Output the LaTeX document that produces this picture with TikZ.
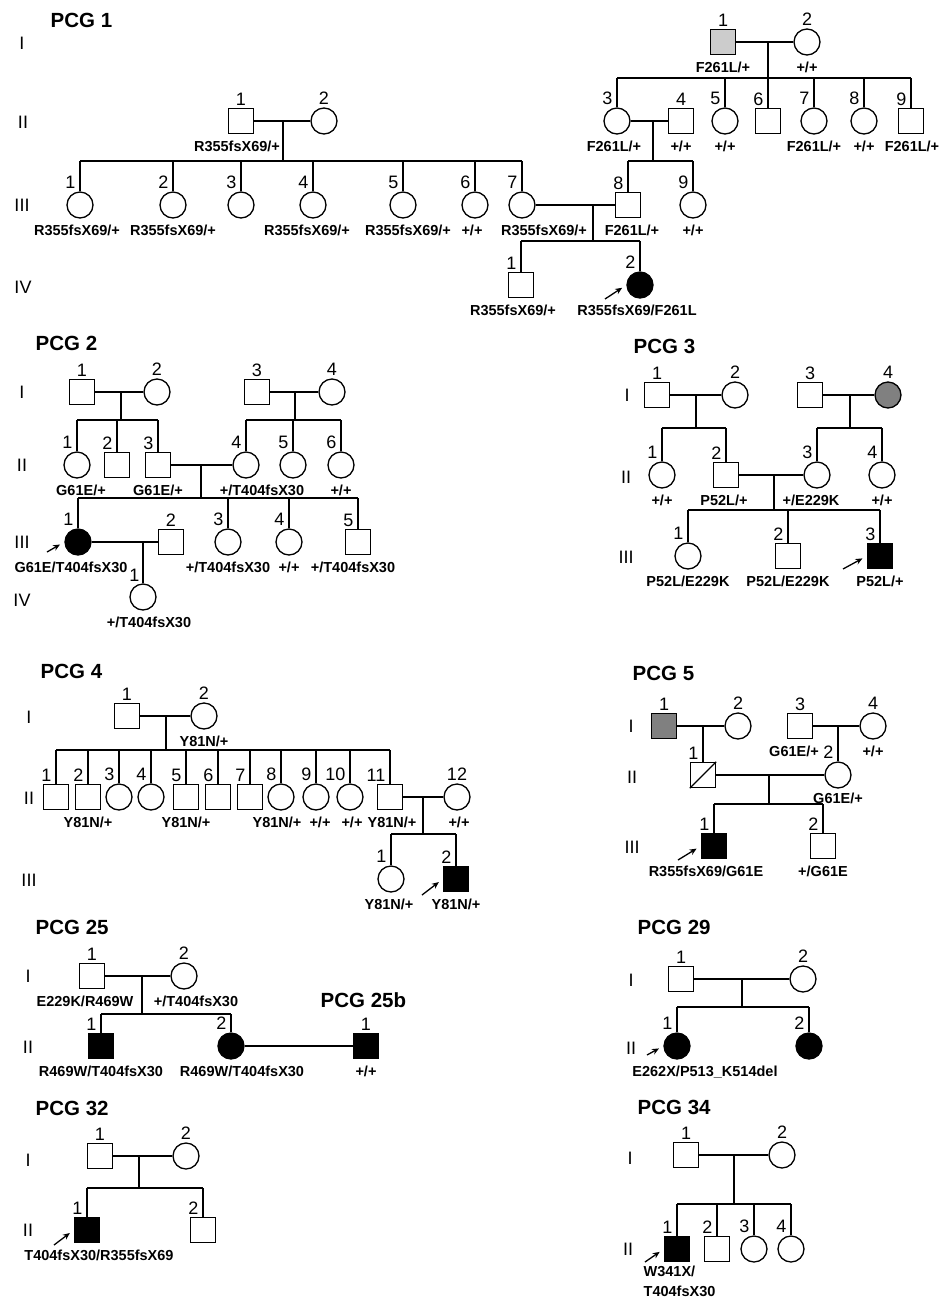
\documentclass[tikz,border=0pt]{standalone}
\usepackage{fontspec}
\setmainfont{Liberation Sans}
\usetikzlibrary{arrows.meta,positioning}

\begin{document}
\begin{tikzpicture}[x=1pt, y=-1pt, line width=1.3pt, >=Stealth,
  male/.style={draw, rectangle, minimum size=25pt, inner sep=0pt},
  female/.style={draw, circle, minimum size=26pt, inner sep=0pt},
  affected/.style={fill=black},
  lightc/.style={fill=black!20},
  darkc/.style={fill=black!50},
  num/.style={font=\fontsize{18}{18}\selectfont, inner sep=0pt},
  numc/.style={num, anchor=south, yshift=2pt},
  numl/.style={num, anchor=south east, xshift=-4pt, yshift=2pt},
  geno/.style={font=\fontsize{14.5}{20}\selectfont\bfseries, inner sep=1pt},
  gen/.style={font=\fontsize{18}{18}\selectfont, inner sep=0pt},
  pcgtitle/.style={font=\fontsize{20.5}{20}\selectfont\bfseries, anchor=west, inner sep=0pt},
  proband/.style={-{Stealth[length=7pt,width=6pt]}, line width=1.3pt, shorten >=5pt}]
\useasboundingbox (0,0) rectangle (941,1299);

\node[pcgtitle] (p1-t) at (50,20) {PCG 1};
\node[gen] (p1-gI) at (22,43) {I};
\node[gen] (p1-gII) at (23,122) {II};
\node[gen] (p1-gIII) at (22,205) {III};
\node[gen] (p1-gIV) at (23,287) {IV};
\node[male, lightc] (p1-I1) at (723,42) {};
\node[numc] (p1-I1n) at (p1-I1.north) {1};
\node[geno, below=5pt of p1-I1] (p1-I1g) {F261L/+};
\node[female] (p1-I2) at (807,42) {};
\node[numc] (p1-I2n) at (p1-I2.north) {2};
\node[geno, below=5pt of p1-I2] (p1-I2g) {+/+};
\coordinate (p1-f1) at (768,78);
\draw (p1-I1) -- (p1-I2);
\draw (p1-f1 |- p1-I1) -- (p1-f1);
\node[male] (p1-II1) at (241,121) {};
\node[numc] (p1-II1n) at (p1-II1.north) {1};
\node[geno, below=5pt of p1-II1, xshift=-4pt] (p1-II1g) {R355fsX69/+};
\node[female] (p1-II2) at (324,121) {};
\node[numc] (p1-II2n) at (p1-II2.north) {2};
\node[female] (p1-II3) at (617,121) {};
\node[numl] (p1-II3n) at (p1-II3.north) {3};
\node[geno, below=5pt of p1-II3, xshift=-3pt] (p1-II3g) {F261L/+};
\node[male] (p1-II4) at (681,121) {};
\node[numc] (p1-II4n) at (p1-II4.north) {4};
\node[geno, below=5pt of p1-II4] (p1-II4g) {+/+};
\node[female] (p1-II5) at (725,121) {};
\node[numl] (p1-II5n) at (p1-II5.north) {5};
\node[geno, below=5pt of p1-II5] (p1-II5g) {+/+};
\node[male] (p1-II6) at (768,121) {};
\node[numl] (p1-II6n) at (p1-II6.north) {6};
\node[female] (p1-II7) at (814,121) {};
\node[numl] (p1-II7n) at (p1-II7.north) {7};
\node[geno, below=5pt of p1-II7] (p1-II7g) {F261L/+};
\node[female] (p1-II8) at (864,121) {};
\node[numl] (p1-II8n) at (p1-II8.north) {8};
\node[geno, below=5pt of p1-II8] (p1-II8g) {+/+};
\node[male] (p1-II9) at (911,121) {};
\node[numl] (p1-II9n) at (p1-II9.north) {9};
\node[geno, below=5pt of p1-II9, xshift=1pt] (p1-II9g) {F261L/+};
\draw (p1-II3 |- p1-f1) -- (p1-II9 |- p1-f1);
\draw (p1-II3) -- (p1-II3 |- p1-f1);
\draw (p1-II5) -- (p1-II5 |- p1-f1);
\draw (p1-II6) -- (p1-II6 |- p1-f1);
\draw (p1-II7) -- (p1-II7 |- p1-f1);
\draw (p1-II8) -- (p1-II8 |- p1-f1);
\draw (p1-II9) -- (p1-II9 |- p1-f1);
\coordinate (p1-f2) at (283,161);
\coordinate (p1-f3) at (653,161);
\draw (p1-II1) -- (p1-II2);
\draw (p1-f2 |- p1-II1) -- (p1-f2);
\draw (p1-II3) -- (p1-II4);
\draw (p1-f3 |- p1-II3) -- (p1-f3);
\node[female] (p1-III1) at (80,205) {};
\node[numl] (p1-III1n) at (p1-III1.north) {1};
\node[geno, below=5pt of p1-III1, xshift=-3pt] (p1-III1g) {R355fsX69/+};
\node[female] (p1-III2) at (173,205) {};
\node[numl] (p1-III2n) at (p1-III2.north) {2};
\node[geno, below=5pt of p1-III2] (p1-III2g) {R355fsX69/+};
\node[female] (p1-III3) at (241,205) {};
\node[numl] (p1-III3n) at (p1-III3.north) {3};
\node[female] (p1-III4) at (313,205) {};
\node[numl] (p1-III4n) at (p1-III4.north) {4};
\node[geno, below=5pt of p1-III4, xshift=-6pt] (p1-III4g) {R355fsX69/+};
\node[female] (p1-III5) at (403,205) {};
\node[numl] (p1-III5n) at (p1-III5.north) {5};
\node[geno, below=5pt of p1-III5, xshift=5pt] (p1-III5g) {R355fsX69/+};
\node[female] (p1-III6) at (475,205) {};
\node[numl] (p1-III6n) at (p1-III6.north) {6};
\node[geno, below=5pt of p1-III6, xshift=-3pt] (p1-III6g) {+/+};
\node[female] (p1-III7) at (522,205) {};
\node[numl] (p1-III7n) at (p1-III7.north) {7};
\node[geno, below=5pt of p1-III7, xshift=22pt] (p1-III7g) {R355fsX69/+};
\node[male] (p1-III8) at (628,205) {};
\node[numl] (p1-III8n) at (p1-III8.north) {8};
\node[geno, below=5pt of p1-III8, xshift=4pt] (p1-III8g) {F261L/+};
\node[female] (p1-III9) at (693,205) {};
\node[numl] (p1-III9n) at (p1-III9.north) {9};
\node[geno, below=5pt of p1-III9] (p1-III9g) {+/+};
\draw (p1-III1 |- p1-f2) -- (p1-III7 |- p1-f2);
\draw (p1-III1) -- (p1-III1 |- p1-f2);
\draw (p1-III2) -- (p1-III2 |- p1-f2);
\draw (p1-III3) -- (p1-III3 |- p1-f2);
\draw (p1-III4) -- (p1-III4 |- p1-f2);
\draw (p1-III5) -- (p1-III5 |- p1-f2);
\draw (p1-III6) -- (p1-III6 |- p1-f2);
\draw (p1-III7) -- (p1-III7 |- p1-f2);
\draw (p1-III8 |- p1-f3) -- (p1-III9 |- p1-f3);
\draw (p1-III8) -- (p1-III8 |- p1-f3);
\draw (p1-III9) -- (p1-III9 |- p1-f3);
\coordinate (p1-f4) at (593,241);
\draw (p1-III7) -- (p1-III8);
\draw (p1-f4 |- p1-III7) -- (p1-f4);
\node[male] (p1-IV1) at (521,285) {};
\node[numl] (p1-IV1n) at (p1-IV1.north) {1};
\node[geno, below=5pt of p1-IV1, xshift=-8pt] (p1-IV1g) {R355fsX69/+};
\node[female, affected] (p1-IV2) at (640,285) {};
\node[numl] (p1-IV2n) at (p1-IV2.north) {2};
\node[geno, below=5pt of p1-IV2, xshift=-3pt] (p1-IV2g) {R355fsX69/F261L};
\draw (p1-IV1 |- p1-f4) -- (p1-IV2 |- p1-f4);
\draw (p1-IV1) -- (p1-IV1 |- p1-f4);
\draw (p1-IV2) -- (p1-IV2 |- p1-f4);
\coordinate (p1-arr) at (605,299);
\draw[proband] (p1-arr) -- (p1-IV2.west);

\node[pcgtitle] (p2-t) at (35,343) {PCG 2};
\node[gen] (p2-gI) at (22,392) {I};
\node[gen] (p2-gII) at (22,465) {II};
\node[gen] (p2-gIII) at (22,542) {III};
\node[gen] (p2-gIV) at (22,600) {IV};
\node[male] (p2-I1) at (82,392) {};
\node[numc] (p2-I1n) at (p2-I1.north) {1};
\node[female] (p2-I2) at (157,392) {};
\node[numc] (p2-I2n) at (p2-I2.north) {2};
\node[male] (p2-I3) at (257,392) {};
\node[numc] (p2-I3n) at (p2-I3.north) {3};
\node[female] (p2-I4) at (332,392) {};
\node[numc] (p2-I4n) at (p2-I4.north) {4};
\coordinate (p2-f1) at (121,420);
\coordinate (p2-f2) at (295,420);
\draw (p2-I1) -- (p2-I2);
\draw (p2-f1 |- p2-I1) -- (p2-f1);
\draw (p2-I3) -- (p2-I4);
\draw (p2-f2 |- p2-I3) -- (p2-f2);
\node[female] (p2-II1) at (77,465) {};
\node[numl] (p2-II1n) at (p2-II1.north) {1};
\node[geno, below=5pt of p2-II1, xshift=4pt] (p2-II1g) {G61E/+};
\node[male] (p2-II2) at (117,465) {};
\node[numl] (p2-II2n) at (p2-II2.north) {2};
\node[male] (p2-II3) at (158,465) {};
\node[numl] (p2-II3n) at (p2-II3.north) {3};
\node[geno, below=5pt of p2-II3] (p2-II3g) {G61E/+};
\node[female] (p2-II4) at (246,465) {};
\node[numl] (p2-II4n) at (p2-II4.north) {4};
\node[geno, below=5pt of p2-II4, xshift=16pt] (p2-II4g) {+/T404fsX30};
\node[female] (p2-II5) at (293,465) {};
\node[numl] (p2-II5n) at (p2-II5.north) {5};
\node[female] (p2-II6) at (341,465) {};
\node[numl] (p2-II6n) at (p2-II6.north) {6};
\node[geno, below=5pt of p2-II6] (p2-II6g) {+/+};
\draw (p2-II1 |- p2-f1) -- (p2-II3 |- p2-f1);
\draw (p2-II1) -- (p2-II1 |- p2-f1);
\draw (p2-II2) -- (p2-II2 |- p2-f1);
\draw (p2-II3) -- (p2-II3 |- p2-f1);
\draw (p2-II4 |- p2-f2) -- (p2-II6 |- p2-f2);
\draw (p2-II4) -- (p2-II4 |- p2-f2);
\draw (p2-II5) -- (p2-II5 |- p2-f2);
\draw (p2-II6) -- (p2-II6 |- p2-f2);
\coordinate (p2-f3) at (201,498);
\draw (p2-II3) -- (p2-II4);
\draw (p2-f3 |- p2-II3) -- (p2-f3);
\node[female, affected] (p2-III1) at (78,542) {};
\node[numl] (p2-III1n) at (p2-III1.north) {1};
\node[geno, below=5pt of p2-III1, xshift=-7pt] (p2-III1g) {G61E/T404fsX30};
\node[male] (p2-III2) at (171,542) {};
\node[numc] (p2-III2n) at (p2-III2.north) {2};
\node[female] (p2-III3) at (228,542) {};
\node[numl] (p2-III3n) at (p2-III3.north) {3};
\node[geno, below=5pt of p2-III3] (p2-III3g) {+/T404fsX30};
\node[female] (p2-III4) at (289,542) {};
\node[numl] (p2-III4n) at (p2-III4.north) {4};
\node[geno, below=5pt of p2-III4] (p2-III4g) {+/+};
\node[male] (p2-III5) at (358,542) {};
\node[numl] (p2-III5n) at (p2-III5.north) {5};
\node[geno, below=5pt of p2-III5, xshift=-5pt] (p2-III5g) {+/T404fsX30};
\draw (p2-III1 |- p2-f3) -- (p2-III5 |- p2-f3);
\draw (p2-III1) -- (p2-III1 |- p2-f3);
\draw (p2-III3) -- (p2-III3 |- p2-f3);
\draw (p2-III4) -- (p2-III4 |- p2-f3);
\draw (p2-III5) -- (p2-III5 |- p2-f3);
\draw (p2-III1) -- (p2-III2);
\node[female] (p2-IV1) at (143,597) {};
\node[numl, xshift=1pt, yshift=-1pt] (p2-IV1n) at (p2-IV1.north) {1};
\node[geno, below=5pt of p2-IV1, xshift=6pt] (p2-IV1g) {+/T404fsX30};
\draw (p2-IV1) -- (p2-IV1 |- p2-III1);
\coordinate (p2-arr) at (47,552);
\draw[proband] (p2-arr) -- (p2-III1.west);

\node[pcgtitle] (p3-t) at (633,346) {PCG 3};
\node[gen] (p3-gI) at (627,395) {I};
\node[gen] (p3-gII) at (626,477) {II};
\node[gen] (p3-gIII) at (626,557) {III};
\node[male] (p3-I1) at (657,395) {};
\node[numc] (p3-I1n) at (p3-I1.north) {1};
\node[female] (p3-I2) at (735,395) {};
\node[numc] (p3-I2n) at (p3-I2.north) {2};
\node[male] (p3-I3) at (810,395) {};
\node[numc] (p3-I3n) at (p3-I3.north) {3};
\node[female, darkc] (p3-I4) at (888,395) {};
\node[numc] (p3-I4n) at (p3-I4.north) {4};
\coordinate (p3-f1) at (696,428);
\coordinate (p3-f2) at (850,428);
\draw (p3-I1) -- (p3-I2);
\draw (p3-f1 |- p3-I1) -- (p3-f1);
\draw (p3-I3) -- (p3-I4);
\draw (p3-f2 |- p3-I3) -- (p3-f2);
\node[female] (p3-II1) at (662,475) {};
\node[numl] (p3-II1n) at (p3-II1.north) {1};
\node[geno, below=5pt of p3-II1] (p3-II1g) {+/+};
\node[male] (p3-II2) at (726,475) {};
\node[numl] (p3-II2n) at (p3-II2.north) {2};
\node[geno, below=5pt of p3-II2, xshift=-2pt] (p3-II2g) {P52L/+};
\node[female] (p3-II3) at (817,475) {};
\node[numl] (p3-II3n) at (p3-II3.north) {3};
\node[geno, below=5pt of p3-II3, xshift=-6pt] (p3-II3g) {+/E229K};
\node[female] (p3-II4) at (882,475) {};
\node[numl] (p3-II4n) at (p3-II4.north) {4};
\node[geno, below=5pt of p3-II4] (p3-II4g) {+/+};
\draw (p3-II1 |- p3-f1) -- (p3-II2 |- p3-f1);
\draw (p3-II1) -- (p3-II1 |- p3-f1);
\draw (p3-II2) -- (p3-II2 |- p3-f1);
\draw (p3-II3 |- p3-f2) -- (p3-II4 |- p3-f2);
\draw (p3-II3) -- (p3-II3 |- p3-f2);
\draw (p3-II4) -- (p3-II4 |- p3-f2);
\coordinate (p3-f3) at (774,510);
\draw (p3-II2) -- (p3-II3);
\draw (p3-f3 |- p3-II2) -- (p3-f3);
\node[female] (p3-III1) at (688,556) {};
\node[numl] (p3-III1n) at (p3-III1.north) {1};
\node[geno, below=5pt of p3-III1] (p3-III1g) {P52L/E229K};
\node[male] (p3-III2) at (788,556) {};
\node[numl] (p3-III2n) at (p3-III2.north) {2};
\node[geno, below=5pt of p3-III2] (p3-III2g) {P52L/E229K};
\node[male, affected] (p3-III3) at (880,556) {};
\node[numl] (p3-III3n) at (p3-III3.north) {3};
\node[geno, below=5pt of p3-III3] (p3-III3g) {P52L/+};
\draw (p3-III1 |- p3-f3) -- (p3-III3 |- p3-f3);
\draw (p3-III1) -- (p3-III1 |- p3-f3);
\draw (p3-III2) -- (p3-III2 |- p3-f3);
\draw (p3-III3) -- (p3-III3 |- p3-f3);
\coordinate (p3-arr) at (843,569);
\draw[proband] (p3-arr) -- (p3-III3.west);

\node[pcgtitle] (p4-t) at (40,671) {PCG 4};
\node[gen] (p4-gI) at (29,717) {I};
\node[gen] (p4-gII) at (29,798) {II};
\node[gen] (p4-gIII) at (29,880) {III};
\node[male] (p4-I1) at (127,716) {};
\node[numc] (p4-I1n) at (p4-I1.north) {1};
\node[female] (p4-I2) at (204,716) {};
\node[numc] (p4-I2n) at (p4-I2.north) {2};
\node[geno, below=5pt of p4-I2] (p4-I2g) {Y81N/+};
\coordinate (p4-f1) at (166,750);
\draw (p4-I1) -- (p4-I2);
\draw (p4-f1 |- p4-I1) -- (p4-f1);
\node[male] (p4-II1) at (56,797) {};
\node[numl] (p4-II1n) at (p4-II1.north) {1};
\node[male] (p4-II2) at (88,797) {};
\node[numl] (p4-II2n) at (p4-II2.north) {2};
\node[geno, below=5pt of p4-II2] (p4-II2g) {Y81N/+};
\node[female] (p4-II3) at (119,797) {};
\node[numl] (p4-II3n) at (p4-II3.north) {3};
\node[female] (p4-II4) at (151,797) {};
\node[numl] (p4-II4n) at (p4-II4.north) {4};
\node[male] (p4-II5) at (186,797) {};
\node[numl] (p4-II5n) at (p4-II5.north) {5};
\node[geno, below=5pt of p4-II5] (p4-II5g) {Y81N/+};
\node[male] (p4-II6) at (218,797) {};
\node[numl] (p4-II6n) at (p4-II6.north) {6};
\node[male] (p4-II7) at (250,797) {};
\node[numl] (p4-II7n) at (p4-II7.north) {7};
\node[female] (p4-II8) at (281,797) {};
\node[numl] (p4-II8n) at (p4-II8.north) {8};
\node[geno, below=5pt of p4-II8, xshift=-4pt] (p4-II8g) {Y81N/+};
\node[female] (p4-II9) at (316,797) {};
\node[numl] (p4-II9n) at (p4-II9.north) {9};
\node[geno, below=5pt of p4-II9, xshift=4pt] (p4-II9g) {+/+};
\node[female] (p4-II10) at (350,797) {};
\node[numl] (p4-II10n) at (p4-II10.north) {10};
\node[geno, below=5pt of p4-II10, xshift=2pt] (p4-II10g) {+/+};
\node[male] (p4-II11) at (390,797) {};
\node[numl] (p4-II11n) at (p4-II11.north) {11};
\node[geno, below=5pt of p4-II11, xshift=2pt] (p4-II11g) {Y81N/+};
\node[female] (p4-II12) at (457,797) {};
\node[numc] (p4-II12n) at (p4-II12.north) {12};
\node[geno, below=5pt of p4-II12, xshift=2pt] (p4-II12g) {+/+};
\draw (p4-II1 |- p4-f1) -- (p4-II11 |- p4-f1);
\draw (p4-II1) -- (p4-II1 |- p4-f1);
\draw (p4-II2) -- (p4-II2 |- p4-f1);
\draw (p4-II3) -- (p4-II3 |- p4-f1);
\draw (p4-II4) -- (p4-II4 |- p4-f1);
\draw (p4-II5) -- (p4-II5 |- p4-f1);
\draw (p4-II6) -- (p4-II6 |- p4-f1);
\draw (p4-II7) -- (p4-II7 |- p4-f1);
\draw (p4-II8) -- (p4-II8 |- p4-f1);
\draw (p4-II9) -- (p4-II9 |- p4-f1);
\draw (p4-II10) -- (p4-II10 |- p4-f1);
\draw (p4-II11) -- (p4-II11 |- p4-f1);
\coordinate (p4-f2) at (423,834);
\draw (p4-II11) -- (p4-II12);
\draw (p4-f2 |- p4-II11) -- (p4-f2);
\node[female] (p4-III1) at (391,879) {};
\node[numl] (p4-III1n) at (p4-III1.north) {1};
\node[geno, below=5pt of p4-III1, xshift=-2pt] (p4-III1g) {Y81N/+};
\node[male, affected] (p4-III2) at (456,879) {};
\node[numl] (p4-III2n) at (p4-III2.north) {2};
\node[geno, below=5pt of p4-III2] (p4-III2g) {Y81N/+};
\draw (p4-III1 |- p4-f2) -- (p4-III2 |- p4-f2);
\draw (p4-III1) -- (p4-III1 |- p4-f2);
\draw (p4-III2) -- (p4-III2 |- p4-f2);
\coordinate (p4-arr) at (422,895);
\draw[proband] (p4-arr) -- (p4-III2.west);

\node[pcgtitle] (p5-t) at (632,673) {PCG 5};
\node[gen] (p5-gI) at (631,726) {I};
\node[gen] (p5-gII) at (632,777) {II};
\node[gen] (p5-gIII) at (632,847) {III};
\node[male, darkc] (p5-I1) at (664,726) {};
\node[numc] (p5-I1n) at (p5-I1.north) {1};
\node[female] (p5-I2) at (738,726) {};
\node[numc] (p5-I2n) at (p5-I2.north) {2};
\node[male] (p5-I3) at (800,726) {};
\node[numc] (p5-I3n) at (p5-I3.north) {3};
\node[geno, below=5pt of p5-I3, xshift=-6pt] (p5-I3g) {G61E/+};
\node[female] (p5-I4) at (873,726) {};
\node[numc] (p5-I4n) at (p5-I4.north) {4};
\node[geno, below=5pt of p5-I4] (p5-I4g) {+/+};
\draw (p5-I1) -- (p5-I2);
\draw (p5-I3) -- (p5-I4);
\node[male] (p5-II1) at (703,775) {};
\node[numl] (p5-II1n) at (p5-II1.north) {1};
\draw (p5-II1.south west) -- (p5-II1.north east);
\node[female] (p5-II2) at (838,775) {};
\node[numl] (p5-II2n) at (p5-II2.north) {2};
\node[geno, below=3pt of p5-II2] (p5-II2g) {G61E/+};
\draw (p5-II1) -- (p5-II1 |- p5-I1);
\draw (p5-II2) -- (p5-II2 |- p5-I3);
\coordinate (p5-f3) at (769,804);
\draw (p5-II1) -- (p5-II2);
\draw (p5-f3 |- p5-II1) -- (p5-f3);
\node[male, affected] (p5-III1) at (714,846) {};
\node[numl] (p5-III1n) at (p5-III1.north) {1};
\node[geno, below=5pt of p5-III1, xshift=-8pt] (p5-III1g) {R355fsX69/G61E};
\node[male] (p5-III2) at (823,846) {};
\node[numl] (p5-III2n) at (p5-III2.north) {2};
\node[geno, below=5pt of p5-III2] (p5-III2g) {+/G61E};
\draw (p5-III1 |- p5-f3) -- (p5-III2 |- p5-f3);
\draw (p5-III1) -- (p5-III1 |- p5-f3);
\draw (p5-III2) -- (p5-III2 |- p5-f3);
\coordinate (p5-arr) at (678,860);
\draw[proband] (p5-arr) -- (p5-III1.west);

\node[pcgtitle] (p25-t) at (35,927) {PCG 25};
\node[pcgtitle] (p25b-t) at (320,1000) {PCG 25b};
\node[gen] (p25-gI) at (28,976) {I};
\node[gen] (p25-gII) at (28,1047) {II};
\node[male] (p25-I1) at (92,976) {};
\node[numc] (p25-I1n) at (p25-I1.north) {1};
\node[geno, below=5pt of p25-I1, xshift=-7pt] (p25-I1g) {E229K/R469W};
\node[female] (p25-I2) at (184,976) {};
\node[numc] (p25-I2n) at (p25-I2.north) {2};
\node[geno, below=5pt of p25-I2, xshift=12pt] (p25-I2g) {+/T404fsX30};
\coordinate (p25-f1) at (142,1014);
\draw (p25-I1) -- (p25-I2);
\draw (p25-f1 |- p25-I1) -- (p25-f1);
\node[male, affected] (p25-II1) at (101,1046) {};
\node[numl] (p25-II1n) at (p25-II1.north) {1};
\node[geno, below=5pt of p25-II1] (p25-II1g) {R469W/T404fsX30};
\node[female, affected] (p25-II2) at (231,1046) {};
\node[numl] (p25-II2n) at (p25-II2.north) {2};
\node[geno, below=5pt of p25-II2, xshift=11pt] (p25-II2g) {R469W/T404fsX30};
\draw (p25-II1 |- p25-f1) -- (p25-II2 |- p25-f1);
\draw (p25-II1) -- (p25-II1 |- p25-f1);
\draw (p25-II2) -- (p25-II2 |- p25-f1);
\node[male, affected] (p25b-II1) at (366,1046) {};
\node[numc] (p25b-II1n) at (p25b-II1.north) {1};
\node[geno, below=5pt of p25b-II1] (p25b-II1g) {+/+};
\draw (p25-II2) -- (p25b-II1);

\node[pcgtitle] (p29-t) at (637,927) {PCG 29};
\node[gen] (p29-gI) at (631,980) {I};
\node[gen] (p29-gII) at (631,1048) {II};
\node[male] (p29-I1) at (681,979) {};
\node[numc] (p29-I1n) at (p29-I1.north) {1};
\node[female] (p29-I2) at (803,979) {};
\node[numc] (p29-I2n) at (p29-I2.north) {2};
\coordinate (p29-f1) at (742,1007);
\draw (p29-I1) -- (p29-I2);
\draw (p29-f1 |- p29-I1) -- (p29-f1);
\node[female, affected] (p29-II1) at (677,1046) {};
\node[numl] (p29-II1n) at (p29-II1.north) {1};
\node[geno, below=5pt of p29-II1, xshift=28pt] (p29-II1g) {E262X/P513\_K514del};
\node[female, affected] (p29-II2) at (809,1046) {};
\node[numl] (p29-II2n) at (p29-II2.north) {2};
\draw (p29-II1 |- p29-f1) -- (p29-II2 |- p29-f1);
\draw (p29-II1) -- (p29-II1 |- p29-f1);
\draw (p29-II2) -- (p29-II2 |- p29-f1);
\coordinate (p29-arr) at (647,1055);
\draw[proband] (p29-arr) -- (p29-II1.west);

\node[pcgtitle] (p32-t) at (35,1108) {PCG 32};
\node[gen] (p32-gI) at (28,1160) {I};
\node[gen] (p32-gII) at (28,1230) {II};
\node[male] (p32-I1) at (100,1156) {};
\node[numc] (p32-I1n) at (p32-I1.north) {1};
\node[female] (p32-I2) at (186,1156) {};
\node[numc] (p32-I2n) at (p32-I2.north) {2};
\coordinate (p32-f1) at (139,1188);
\draw (p32-I1) -- (p32-I2);
\draw (p32-f1 |- p32-I1) -- (p32-f1);
\node[male, affected] (p32-II1) at (87,1230) {};
\node[numl] (p32-II1n) at (p32-II1.north) {1};
\node[geno, below=5pt of p32-II1, xshift=12pt] (p32-II1g) {T404fsX30/R355fsX69};
\node[male] (p32-II2) at (203,1230) {};
\node[numl] (p32-II2n) at (p32-II2.north) {2};
\draw (p32-II1 |- p32-f1) -- (p32-II2 |- p32-f1);
\draw (p32-II1) -- (p32-II1 |- p32-f1);
\draw (p32-II2) -- (p32-II2 |- p32-f1);
\coordinate (p32-arr) at (54,1245);
\draw[proband] (p32-arr) -- (p32-II1.west);

\node[pcgtitle] (p34-t) at (637,1107) {PCG 34};
\node[gen] (p34-gI) at (630,1158) {I};
\node[gen] (p34-gII) at (628,1249) {II};
\node[male] (p34-I1) at (686,1155) {};
\node[numc] (p34-I1n) at (p34-I1.north) {1};
\node[female] (p34-I2) at (782,1155) {};
\node[numc] (p34-I2n) at (p34-I2.north) {2};
\coordinate (p34-f1) at (734,1204);
\draw (p34-I1) -- (p34-I2);
\draw (p34-f1 |- p34-I1) -- (p34-f1);
\node[male, affected] (p34-II1) at (677,1249) {};
\node[numl] (p34-II1n) at (p34-II1.north) {1};
\node[geno, align=left, anchor=north west] (p34-II1g) at (642,1264) {W341X/\\T404fsX30};
\node[male] (p34-II2) at (717,1249) {};
\node[numl] (p34-II2n) at (p34-II2.north) {2};
\node[female] (p34-II3) at (754,1249) {};
\node[numl] (p34-II3n) at (p34-II3.north) {3};
\node[female] (p34-II4) at (791,1249) {};
\node[numl] (p34-II4n) at (p34-II4.north) {4};
\draw (p34-II1 |- p34-f1) -- (p34-II4 |- p34-f1);
\draw (p34-II1) -- (p34-II1 |- p34-f1);
\draw (p34-II2) -- (p34-II2 |- p34-f1);
\draw (p34-II3) -- (p34-II3 |- p34-f1);
\draw (p34-II4) -- (p34-II4 |- p34-f1);
\coordinate (p34-arr) at (645,1262);
\draw[proband] (p34-arr) -- (p34-II1.west);
\end{tikzpicture}
\end{document}
